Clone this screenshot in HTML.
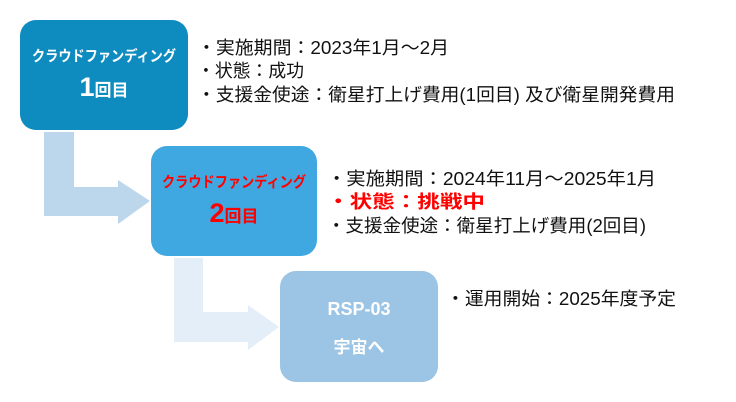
<!DOCTYPE html>
<html><head><meta charset="utf-8"><style>
html,body{margin:0;padding:0;background:#fff;}
svg{display:block;}
text{font-family:"Liberation Sans","Noto Sans CJK JP",sans-serif;}
</style></head><body>
<svg width="736" height="402" viewBox="0 0 736 402" xmlns="http://www.w3.org/2000/svg">
<path d="M44 132 H74 V187 H118 V180 L150 201 L118 224 V216 H44 Z" fill="#bcd6ec"/>
<path d="M174 258 H203 V312 H248 V305 L279 327 L248 350 V342 H174 Z" fill="#e4eef8"/>
<rect x="20" y="20" width="168" height="110" rx="16" fill="#0e8cc0"/>
<rect x="151" y="146" width="166" height="110" rx="16" fill="#40a8e0"/>
<rect x="280" y="271" width="158" height="111" rx="16" fill="#9cc4e4"/>
<text x="104" y="61" fill="#fff" font-size="15" font-weight="bold" text-anchor="middle" textLength="144" lengthAdjust="spacingAndGlyphs">クラウドファンディング</text>
<text x="104" y="96" fill="#fff" font-weight="bold" text-anchor="middle"><tspan font-size="27">1</tspan><tspan font-size="17">回目</tspan></text>
<text x="234" y="187" fill="#ff0000" font-size="15" font-weight="bold" text-anchor="middle" textLength="144" lengthAdjust="spacingAndGlyphs">クラウドファンディング</text>
<text x="234" y="222" fill="#ff0000" font-weight="bold" text-anchor="middle"><tspan font-size="27">2</tspan><tspan font-size="17">回目</tspan></text>
<text x="359" y="315" fill="#fff" font-size="18" font-weight="bold" text-anchor="middle">RSP-03</text>
<text x="359" y="353" fill="#fff" font-size="17" font-weight="bold" text-anchor="middle">宇宙へ</text>
<g font-size="18" fill="#111">
<text x="197" y="54" textLength="252" lengthAdjust="spacingAndGlyphs">・実施期間：2023年1月～2月</text>
<text x="197" y="77" textLength="107" lengthAdjust="spacingAndGlyphs">・状態：成功</text>
<text x="197" y="101" textLength="478" lengthAdjust="spacingAndGlyphs">・支援金使途：衛星打上げ費用(1回目) 及び衛星開発費用</text>
<text x="327" y="185" textLength="329" lengthAdjust="spacingAndGlyphs">・実施期間：2024年11月～2025年1月</text>
<text x="327" y="208" fill="#ff0000" font-weight="bold" textLength="158" lengthAdjust="spacingAndGlyphs">・状態：挑戦中</text>
<text x="327" y="232" textLength="319" lengthAdjust="spacingAndGlyphs">・支援金使途：衛星打上げ費用(2回目)</text>
<text x="446" y="305" textLength="230" lengthAdjust="spacingAndGlyphs">・運用開始：2025年度予定</text>
</g>
</svg>
</body></html>
